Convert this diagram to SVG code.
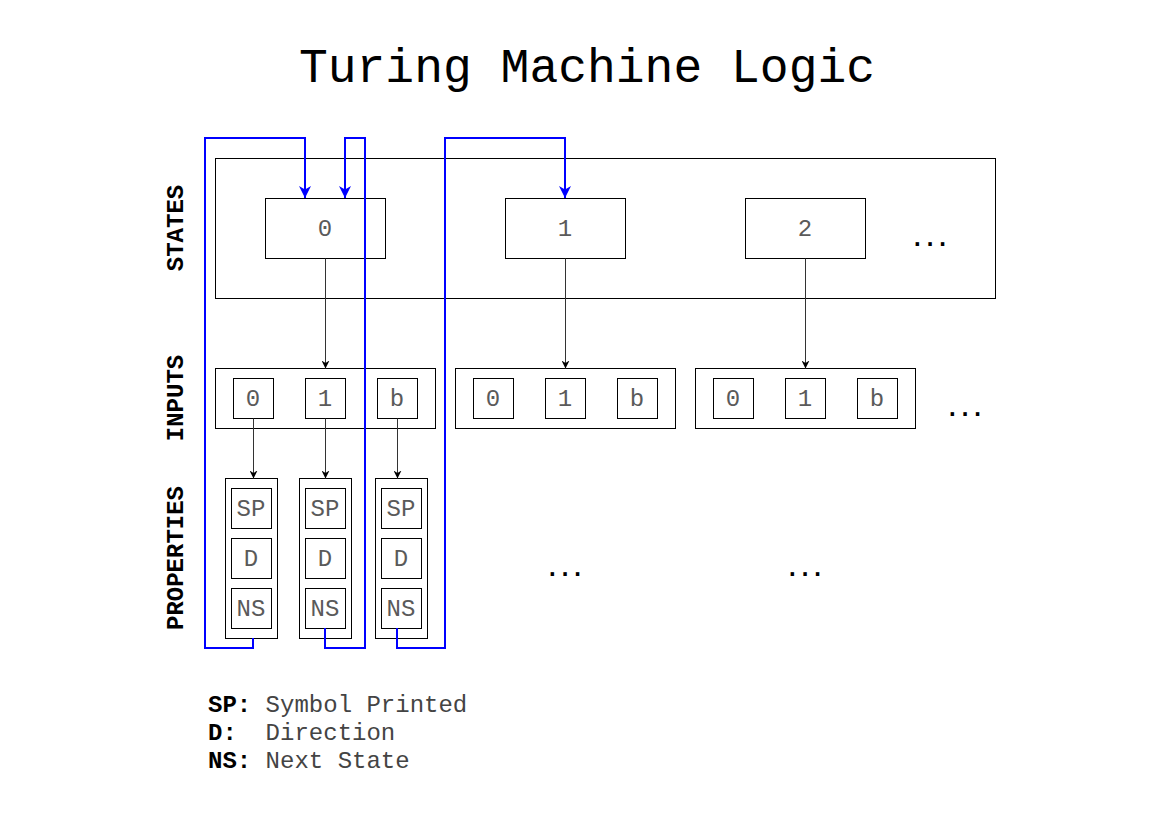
<svg xmlns="http://www.w3.org/2000/svg" width="1169" height="827" viewBox="0 0 1169 827">
<style>
.box{fill:#fff;stroke:#000;stroke-width:1}
.lbl{font-family:"Liberation Mono",monospace;font-size:24px;fill:#5a5a5a;text-anchor:middle}
.side{font-family:"Liberation Mono",monospace;font-size:24px;font-weight:bold;fill:#000;text-anchor:middle}
.dots{font-family:"DejaVu Sans Mono",monospace;font-size:21px;font-weight:bold;fill:#000;text-anchor:middle}
.leg{font-family:"Liberation Mono",monospace;font-size:24px;fill:#444;white-space:pre}
.blk{fill:none;stroke:#333;stroke-width:1;marker-end:url(#ab)}
.blue{fill:none;stroke:#0000ff;stroke-width:2;marker-end:url(#au)}
</style>
<defs>
<marker id="ab" viewBox="0 0 10 10" refX="10" refY="5" markerWidth="8" markerHeight="8" markerUnits="userSpaceOnUse" orient="auto"><path d="M0,0 L10,5 L0,10 L3,5 Z" fill="#000"/></marker>
<marker id="au" viewBox="0 0 10 10" refX="10" refY="5" markerWidth="12" markerHeight="12" markerUnits="userSpaceOnUse" orient="auto"><path d="M0,0 L10,5 L0,10 L3,5 Z" fill="#0000ff"/></marker>
</defs>
<rect width="1169" height="827" fill="#fff"/>
<text x="587" y="82" style="font-family:'Liberation Mono',monospace;font-size:48px;fill:#000;text-anchor:middle">Turing Machine Logic</text>

<text class="side" transform="translate(183,228) rotate(-90)">STATES</text>
<text class="side" transform="translate(183,398) rotate(-90)">INPUTS</text>
<text class="side" transform="translate(183,558) rotate(-90)">PROPERTIES</text>

<g transform="translate(0.5,0.5)">
<g id="states">
<rect class="box" x="215" y="158" width="780" height="140"/>
</g>
<g id="state0"><rect class="box" x="265" y="198" width="120" height="60"/><text class="lbl" x="324.5" y="235.5">0</text></g>
<g id="state1"><rect class="box" x="505" y="198" width="120" height="60"/><text class="lbl" x="564.5" y="235.5">1</text></g>
<g id="state2"><rect class="box" x="745" y="198" width="120" height="60"/><text class="lbl" x="804.5" y="235.5">2</text></g>

<g id="inputs0">
<rect class="box" x="215" y="368" width="220" height="60"/>
<rect class="box" x="233" y="378" width="40" height="40"/><text class="lbl" x="252.5" y="405.5">0</text>
<rect class="box" x="305" y="378" width="40" height="40"/><text class="lbl" x="324.5" y="405.5">1</text>
<rect class="box" x="377" y="378" width="40" height="40"/><text class="lbl" x="396.5" y="405.5">b</text>
</g>
<g id="inputs1">
<rect class="box" x="455" y="368" width="220" height="60"/>
<rect class="box" x="473" y="378" width="40" height="40"/><text class="lbl" x="492.5" y="405.5">0</text>
<rect class="box" x="545" y="378" width="40" height="40"/><text class="lbl" x="564.5" y="405.5">1</text>
<rect class="box" x="617" y="378" width="40" height="40"/><text class="lbl" x="636.5" y="405.5">b</text>
</g>
<g id="inputs2">
<rect class="box" x="695" y="368" width="220" height="60"/>
<rect class="box" x="713" y="378" width="40" height="40"/><text class="lbl" x="732.5" y="405.5">0</text>
<rect class="box" x="785" y="378" width="40" height="40"/><text class="lbl" x="804.5" y="405.5">1</text>
<rect class="box" x="857" y="378" width="40" height="40"/><text class="lbl" x="876.5" y="405.5">b</text>
</g>

<g id="props0">
<rect class="box" x="225" y="478" width="52" height="160"/>
<rect class="box" x="231" y="488" width="40" height="40"/><text class="lbl" x="250.5" y="515.5">SP</text>
<rect class="box" x="231" y="538" width="40" height="40"/><text class="lbl" x="250.5" y="565.5">D</text>
<rect class="box" x="231" y="588" width="40" height="40"/><text class="lbl" x="250.5" y="615.5">NS</text>
</g>
<g id="props1">
<rect class="box" x="299" y="478" width="52" height="160"/>
<rect class="box" x="305" y="488" width="40" height="40"/><text class="lbl" x="324.5" y="515.5">SP</text>
<rect class="box" x="305" y="538" width="40" height="40"/><text class="lbl" x="324.5" y="565.5">D</text>
<rect class="box" x="305" y="588" width="40" height="40"/><text class="lbl" x="324.5" y="615.5">NS</text>
</g>
<g id="props2">
<rect class="box" x="375" y="478" width="52" height="160"/>
<rect class="box" x="381" y="488" width="40" height="40"/><text class="lbl" x="400.5" y="515.5">SP</text>
<rect class="box" x="381" y="538" width="40" height="40"/><text class="lbl" x="400.5" y="565.5">D</text>
<rect class="box" x="381" y="588" width="40" height="40"/><text class="lbl" x="400.5" y="615.5">NS</text>
</g>

<g id="black-connectors">
<line class="blk" x1="325" y1="258" x2="325" y2="368"/>
<line class="blk" x1="565" y1="258" x2="565" y2="368"/>
<line class="blk" x1="805" y1="258" x2="805" y2="368"/>
<line class="blk" x1="253" y1="418" x2="253" y2="478"/>
<line class="blk" x1="325" y1="418" x2="325" y2="478"/>
<line class="blk" x1="397" y1="418" x2="397" y2="478"/>
</g>
</g>

<text class="dots" x="930" y="246">...</text>
<text class="dots" x="965" y="416">...</text>
<text class="dots" x="565" y="576">...</text>
<text class="dots" x="805" y="576">...</text>

<g id="connectors">
<path class="blue" d="M253,638 V648 H205 V138 H305 V198"/>
<path class="blue" d="M325,628 V648 H365 V138 H345 V198"/>
<path class="blue" d="M397,628 V648 H445 V138 H565 V198"/>
</g>

<g id="legend">
<text class="leg" x="208" y="712"><tspan font-weight="bold" fill="#000">SP:</tspan> Symbol Printed</text>
<text class="leg" x="208" y="740"><tspan font-weight="bold" fill="#000">D:</tspan>  Direction</text>
<text class="leg" x="208" y="768"><tspan font-weight="bold" fill="#000">NS:</tspan> Next State</text>
</g>
</svg>
